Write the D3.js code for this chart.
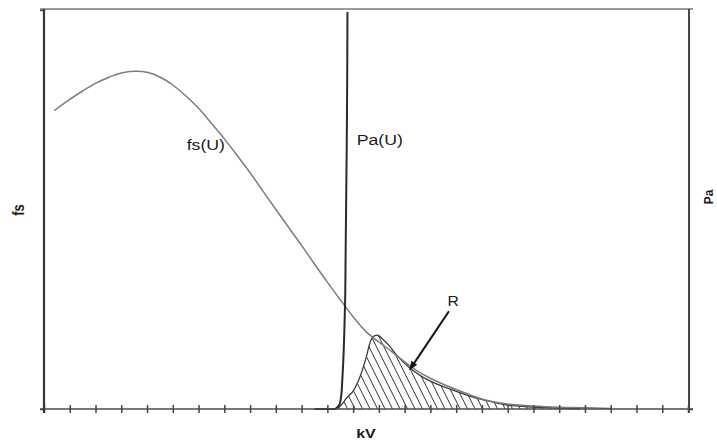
<!DOCTYPE html>
<html>
<head>
<meta charset="utf-8">
<script src="https://cdn.jsdelivr.net/npm/d3@7"></script>
<style>
  html, body { margin: 0; padding: 0; background: #fff; }
  svg { display: block; }
  text { font-family: "Liberation Sans", Arial, sans-serif; fill: #1a1a1a; }
</style>
</head>
<body>
<svg id="chart" width="717" height="444"></svg>
<script>
// Voltage axis (kV) and the stress density fs(U)
const fsKV   = [4, 10, 15, 20, 25, 30, 35, 40, 45, 50, 55, 60, 65, 70, 75, 80, 85, 90, 95, 100,
                105, 110, 115, 120, 125, 130, 135, 140, 145, 150, 155, 160, 170, 180, 190, 200, 210, 220];
const fsVals = [0.748, 0.776, 0.797, 0.816, 0.831, 0.842, 0.8465, 0.844, 0.832, 0.812, 0.785, 0.7535,
                0.716, 0.677, 0.6355, 0.592, 0.546, 0.50, 0.455, 0.41, 0.3635, 0.318, 0.274, 0.231,
                0.194, 0.168, 0.144, 0.118, 0.095, 0.077, 0.062, 0.049, 0.025, 0.0125, 0.0075, 0.0045,
                0.003, 0.001];

// Breakdown probability Pa(U), on the secondary axis
const paKV   = [105, 111, 113, 114, 114.8, 115.4, 115.8, 116.2, 116.6, 116.9, 117.1, 117.3, 117.5, 117.7, 117.8];
const paVals = [0, 0, 0, 0.005, 0.0125, 0.035, 0.0725, 0.1225, 0.1975, 0.2725, 0.3975, 0.5225, 0.6475, 0.8225, 0.995];

// Risk density fs(U)·Pa(U) — the hatched area R
const rKV    = [113, 115, 117.5, 120, 122, 123.7, 125.3, 126.5, 127.6, 129.5, 131.5, 134.2, 136.9,
                142, 147, 151.7, 158.7, 166.5, 174.2, 179.7, 189.8, 199.1, 208];
const rVals  = [0, 0.0075, 0.0275, 0.045, 0.07, 0.1, 0.135, 0.165, 0.18, 0.185, 0.175, 0.1575, 0.135,
                0.1025, 0.08, 0.065, 0.0475, 0.03, 0.0175, 0.01, 0.005, 0.0025, 0];

// Axis ticks
const xTicks = d3.range(0, 251, 10);
const xDomain = [0, 250];

// Label anchors: [kV, value]
const fsLabelAt = [55.4, 0.648];
const paLabelAt = [121.4, 0.6625];
const rLabelAt  = [156.6, 0.2575];
const arrowFrom = [157.2, 0.245];
const arrowTo   = [141.8, 0.097];

const svg = d3.select("#chart");
const x  = d3.scaleLinear().domain(xDomain).range([44, 688]);
const y  = d3.scaleLinear().domain([0, 1]).range([409, 10]);
const y2 = d3.scaleLinear().domain([0, 1]).range([409, 10]);

const TX = 1.18; // horizontal stretch of the lettering
const smooth = d3.curveCatmullRom.alpha(0.5);

// Top frame line
svg.append("line")
  .attr("x1", 40).attr("x2", 693).attr("y1", 9).attr("y2", 9)
  .attr("stroke", "#9a9a9a").attr("stroke-width", 2);

// Hatched region R
const area = d3.area()
  .x((d, i) => x(rKV[i])).y0(y(0)).y1((d, i) => y(d))
  .curve(smooth);

svg.append("clipPath").attr("id", "rClip")
  .append("path").attr("d", area(rVals));

const hatch = svg.append("g").attr("clip-path", "url(#rClip)");
const hTop = y(0.2), hBot = y(0);
const spacing = 7.5, slope = 0.5;
const x0 = x(rKV[0]) - (hBot - hTop) * slope - 10;
const x1 = x(rKV[rKV.length - 1]) + 10;
hatch.selectAll("line")
  .data(d3.range(x0, x1, spacing))
  .join("line")
  .attr("x1", d => d).attr("y1", hTop)
  .attr("x2", d => d + (hBot - hTop) * slope).attr("y2", hBot)
  .attr("stroke", "#333").attr("stroke-width", 1);

// Outline of R
const rLine = d3.line()
  .x((d, i) => x(rKV[i])).y(d => y(d))
  .curve(smooth);
svg.append("path").attr("d", rLine(rVals))
  .attr("fill", "none").attr("stroke", "#3a3a3a").attr("stroke-width", 1.3);

// fs(U) curve
const fsLine = d3.line()
  .x((d, i) => x(fsKV[i])).y(d => y(d))
  .curve(smooth);
svg.append("path").attr("d", fsLine(fsVals))
  .attr("fill", "none").attr("stroke", "#7c7c7c").attr("stroke-width", 1.5);

// Pa(U) curve
const paLine = d3.line()
  .x((d, i) => x(paKV[i])).y(d => y2(d))
  .curve(d3.curveMonotoneY);
svg.append("path").attr("d", paLine(paVals))
  .attr("fill", "none").attr("stroke", "#2a2a2a").attr("stroke-width", 2);

// Bottom axis with crossing ticks
const gx = svg.append("g")
  .attr("transform", `translate(0,${y(0)})`)
  .call(d3.axisBottom(x).tickValues(xTicks).tickFormat("").tickSizeOuter(0).tickSizeInner(4));
gx.select(".domain").attr("stroke", "#4a4a4a").attr("stroke-width", 1.6)
  .attr("d", `M${x(0) - 4},0H${x(250) + 5}`);
gx.selectAll(".tick line").attr("y1", -4).attr("y2", 4)
  .attr("stroke", "#444").attr("stroke-width", 1.5);

// Left axis (fs)
const gy = svg.append("g")
  .attr("transform", `translate(${x(0)},0)`)
  .call(d3.axisLeft(y).tickValues([0, 1]).tickFormat("").tickSizeOuter(0).tickSizeInner(4));
gy.select(".domain").attr("stroke", "#3b3535").attr("stroke-width", 2.2)
  .attr("d", `M0,${y(1) - 1}V${y(0) + 4}`);
gy.selectAll(".tick line").attr("stroke", "#444").attr("stroke-width", 1.5);

// Right axis (Pa)
const gy2 = svg.append("g")
  .attr("transform", `translate(${x(250) + 1},0)`)
  .call(d3.axisRight(y2).tickValues([0]).tickFormat("").tickSizeOuter(0).tickSizeInner(4));
gy2.select(".domain").attr("stroke", "#4a4545").attr("stroke-width", 2)
  .attr("d", `M0,${y2(1) - 1}V${y2(0) + 4}`);
gy2.selectAll(".tick line").attr("stroke", "#444").attr("stroke-width", 1.5);

// Arrow pointing at R
const ax1 = x(arrowFrom[0]), ay1 = y(arrowFrom[1]);
const ax2 = x(arrowTo[0]),   ay2 = y(arrowTo[1]);
const ang = Math.atan2(ay2 - ay1, ax2 - ax1);
const headL = 9, headW = 3.5;
svg.append("line")
  .attr("x1", ax1).attr("y1", ay1)
  .attr("x2", ax2 - Math.cos(ang) * headL * 0.8).attr("y2", ay2 - Math.sin(ang) * headL * 0.8)
  .attr("stroke", "#111").attr("stroke-width", 2);
const bx = ax2 - Math.cos(ang) * headL, by = ay2 - Math.sin(ang) * headL;
svg.append("path")
  .attr("d", `M${ax2},${ay2}L${bx - Math.sin(ang) * headW},${by + Math.cos(ang) * headW}` +
             `L${bx + Math.sin(ang) * headW},${by - Math.cos(ang) * headW}Z`)
  .attr("fill", "#111");

// Curve labels
function label(txt, px, py, size, weight, sx) {
  svg.append("text")
    .attr("transform", `translate(${px},${py}) scale(${sx},1)`)
    .attr("font-size", size).attr("font-weight", weight)
    .text(txt);
}
label("fs(U)", x(fsLabelAt[0]), y(fsLabelAt[1]), 15, "normal", TX);
label("Pa(U)", x(paLabelAt[0]), y2(paLabelAt[1]), 15, "normal", TX);
label("R", x(rLabelAt[0]), y(rLabelAt[1]), 15, "normal", 1.05);

// Axis titles
svg.append("text")
  .attr("transform", `translate(366,438) scale(${TX + 0.1},1)`)
  .attr("text-anchor", "middle").attr("font-size", 12.5).attr("font-weight", "bold")
  .text("kV");
svg.append("text")
  .attr("transform", "translate(23.5,210) rotate(-90) scale(1,1.2)")
  .attr("text-anchor", "middle").attr("font-size", 13).attr("font-weight", "bold")
  .text("fs");
svg.append("text")
  .attr("transform", "translate(713,197) rotate(-90) scale(1,1.12)")
  .attr("text-anchor", "middle").attr("font-size", 12).attr("font-weight", "bold")
  .text("Pa");
</script>
</body>
</html>
